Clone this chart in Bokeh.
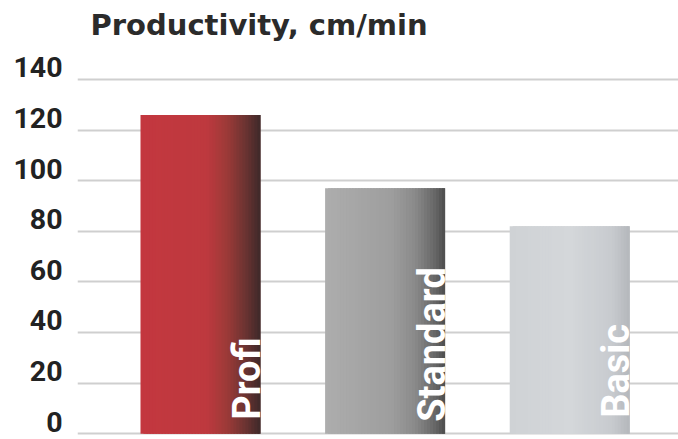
import numpy as np
from bokeh.plotting import figure
from bokeh.models import Range1d, LinearAxis, FixedTicker, Label, ColumnDataSource
from bokeh.core.properties import value
from bokeh.embed import file_html
from bokeh.resources import INLINE

# ---- data ----
categories = ["Profi", "Standard", "Basic"]
productivity = [126, 97, 82]
y_ticks = [0, 20, 40, 60, 80, 100, 120, 140]
title_text = "Productivity, cm/min"

# ---- style ----
bar_width = 0.65
gradient_stops = [
    [(0.0, "#c3373f"), (0.55, "#be393e"), (0.72, "#9c3a38"), (0.88, "#6a3331"), (1.0, "#3d2929")],
    [(0.0, "#adadad"), (0.55, "#9e9e9e"), (0.75, "#8a8a8a"), (0.9, "#6a6a6a"), (1.0, "#4e4e4e")],
    [(0.0, "#cfd2d5"), (0.5, "#d4d7da"), (0.85, "#c8cbcf"), (1.0, "#b4b7bb")],
]
label_lift = [14, 12, 16]
label_font_px = 38
n_slices = 40


def hex2rgb(h):
    h = h.lstrip("#")
    return np.array([int(h[i:i + 2], 16) for i in (0, 2, 4)], dtype=float)


def interp_color(stops, t):
    for (t0, c0), (t1, c1) in zip(stops[:-1], stops[1:]):
        if t0 <= t <= t1:
            f = (t - t0) / (t1 - t0) if t1 > t0 else 0
            c = hex2rgb(c0) * (1 - f) + hex2rgb(c1) * f
            return "#%02x%02x%02x" % tuple(int(round(v)) for v in c)
    return stops[-1][1]


W, H = 678, 439
frame_left = 77
px_per_unit = 354.3 / 140.0
y_bottom = -(H - 433.3) / px_per_unit
y_top = 140 + 79 / px_per_unit
x_start = -(200 - frame_left) / 184.6
x_end = x_start + (W - frame_left) / 184.6

p = figure(width=W, height=H, output_backend="svg", toolbar_location=None,
           x_range=Range1d(x_start, x_end), y_range=Range1d(y_bottom, y_top),
           x_axis_location=None, y_axis_location=None,
           min_border_left=frame_left, min_border_right=0, min_border_top=0, min_border_bottom=0)
p.outline_line_color = None
p.background_fill_color = "white"
p.border_fill_color = "white"
p.xgrid.visible = False
p.ygrid.ticker = FixedTicker(ticks=y_ticks)
p.ygrid.grid_line_color = "#cfcfcf"
p.ygrid.grid_line_width = 2

# shifted range so that tick labels sit on top of their grid lines
shift = 4.8
p.extra_y_ranges = {"labels": Range1d(y_bottom - shift, y_top - shift)}
ax = LinearAxis(y_range_name="labels", ticker=FixedTicker(ticks=y_ticks))
ax.axis_line_color = None
ax.major_tick_line_color = None
ax.minor_tick_line_color = None
ax.major_tick_out = 0
ax.major_tick_in = 0
ax.major_label_standoff = 15
ax.major_label_text_font = "Roboto"
ax.major_label_text_font_style = "bold"
ax.major_label_text_font_size = "28.5px"
ax.major_label_text_color = "#222222"
p.add_layout(ax, "left")

# gradient bars built from overlapping thin slices
xs, ws, tops, cols = [], [], [], []
for i, (val, stops) in enumerate(zip(productivity, gradient_stops)):
    left = i - bar_width / 2
    right = i + bar_width / 2
    sw = bar_width / n_slices
    for j in range(n_slices):
        t = (j + 0.5) / n_slices
        l = left + j * sw
        r = min(l + 2.5 * sw, right)
        xs.append((l + r) / 2)
        ws.append(r - l)
        tops.append(val)
        cols.append(interp_color(stops, t))
src = ColumnDataSource(dict(x=xs, w=ws, top=tops, color=cols))
p.vbar(x="x", width="w", top="top", bottom=0, source=src,
       fill_color="color", line_color=None)

# rotated labels inside bars
lsrc = ColumnDataSource(dict(
    x=[i + bar_width / 2 for i in range(len(categories))],
    y=[0] * len(categories),
    text=categories,
    yo=[-v for v in label_lift],
))
p.text(x="x", y="y", text="text", source=lsrc, angle=np.pi / 2,
       text_align="left", text_baseline="middle", y_offset="yo",
       x_offset=-0.35 * label_font_px,
       text_font=value("Roboto"), text_font_style="bold",
       text_font_size=f"{label_font_px}px", text_color="white")

title = Label(x=90 - frame_left, y=H - 24, x_units="screen", y_units="screen",
              text=title_text, text_font="DejaVu Sans", text_font_style="bold",
              text_font_size="29px", text_color="#2b2b2b",
              text_baseline="alphabetic", text_align="left")
p.add_layout(title)

open("out.html", "w").write(file_html(p, INLINE))
